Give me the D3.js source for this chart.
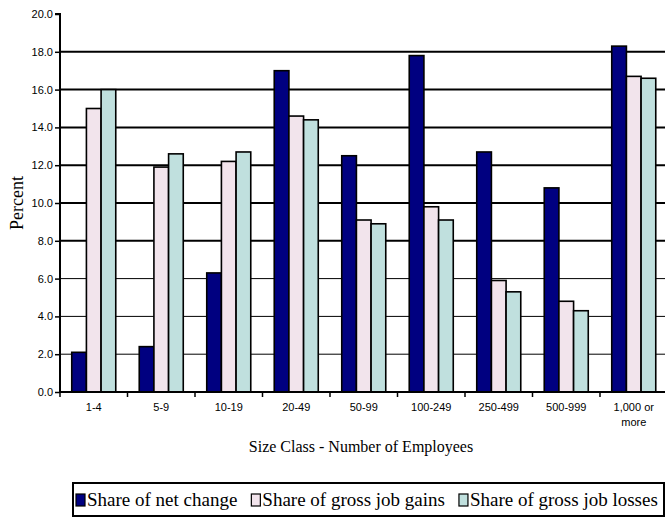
<!DOCTYPE html>
<html>
<head>
<meta charset="utf-8">
<script src="https://cdn.jsdelivr.net/npm/d3@7"></script>
<style>
  body { margin: 0; background: #fff; }
  svg { display: block; }
</style>
</head>
<body>
<svg id="chart"></svg>
<script>
var width = 665;
var height = 517;

// size classes along the bottom
var sizeClasses = ['1-4', '5-9', '10-19', '20-49', '50-99', '100-249', '250-499', '500-999', '1,000 or more'];

// the three series (percent)
var netChange   = [2.1, 2.4, 6.3, 17.0, 12.5, 17.8, 12.7, 10.8, 18.3];
var grossGains  = [15.0, 11.9, 12.2, 14.6, 9.1, 9.8, 5.9, 4.8, 16.7];
var grossLosses = [16.0, 12.6, 12.7, 14.4, 8.9, 9.1, 5.3, 4.3, 16.6];

var seriesNames = ['Share of net change', 'Share of gross job gains', 'Share of gross job losses'];
var seriesColors = ['#000080', '#f2e4ec', '#c0e0de'];

var yTicks = [0, 2, 4, 6, 8, 10, 12, 14, 16, 18, 20];

var seriesData = [netChange, grossGains, grossLosses];

var svg = d3.select('#chart').attr('width', width).attr('height', height);

// plot box (right side runs a bit past the window, as in the original)
var plotLeft = 60, plotRight = 667.5, plotTop = 14, plotBottom = 392;

var x0 = d3.scaleBand().domain(sizeClasses).range([plotLeft, plotRight]).paddingInner(0).paddingOuter(0);
var x1 = d3.scaleBand().domain(d3.range(3)).range([0, x0.bandwidth()]).paddingInner(0).paddingOuter(0.8);
var y = d3.scaleLinear().domain([0, 20]).range([plotBottom, plotTop]);

// gridlines
svg.append('g')
  .selectAll('line')
  .data(yTicks.filter(function(d){ return d > 0 && d < 20; }))
  .enter().append('line')
  .attr('x1', plotLeft).attr('x2', width)
  .attr('y1', function(d){ return y(d); })
  .attr('y2', function(d){ return y(d); })
  .attr('stroke', '#000')
  .attr('stroke-width', function(d){ return d >= 8 ? 2 : 1; });

// bars
var groups = svg.append('g')
  .selectAll('g')
  .data(sizeClasses)
  .enter().append('g')
  .attr('transform', function(d){ return 'translate(' + x0(d) + ',0)'; });

groups.selectAll('rect')
  .data(function(d, i){ return seriesData.map(function(s, k){ return { k: k, v: s[i] }; }); })
  .enter().append('rect')
  .attr('x', function(d){ return x1(d.k); })
  .attr('width', x1.bandwidth())
  .attr('y', function(d){ return y(d.v); })
  .attr('height', function(d){ return y(0) - y(d.v); })
  .attr('fill', function(d){ return seriesColors[d.k]; })
  .attr('stroke', '#000')
  .attr('stroke-width', 1.6);

// y axis
var yAxis = d3.axisLeft(y).tickValues(yTicks).tickSize(5).tickFormat(d3.format('.1f'));
var yg = svg.append('g').attr('transform', 'translate(' + plotLeft + ',0)').call(yAxis);
yg.select('.domain').attr('stroke-width', 2).attr('d', 'M-5,' + plotTop + 'H0V' + plotBottom);
yg.selectAll('.tick line').attr('stroke-width', 1.5);
yg.selectAll('.tick text')
  .attr('x', -7)
  .style('font-family', 'Liberation Sans, Arial, sans-serif')
  .style('font-size', '11px')
  .attr('fill', '#000');

// x axis
var xg = svg.append('g').attr('transform', 'translate(0,' + plotBottom + ')');
xg.append('line')
  .attr('x1', plotLeft).attr('x2', width)
  .attr('stroke', '#000').attr('stroke-width', 2);
xg.selectAll('.xtick')
  .data(sizeClasses)
  .enter().append('line')
  .attr('class', 'xtick')
  .attr('x1', function(d){ return x0(d); })
  .attr('x2', function(d){ return x0(d); })
  .attr('y1', 0).attr('y2', 5)
  .attr('stroke', '#000').attr('stroke-width', 1.5);

var xl = xg.selectAll('.xlab')
  .data(sizeClasses)
  .enter().append('text')
  .attr('class', 'xlab')
  .attr('x', function(d){ return x0(d) + x0.bandwidth() / 2; })
  .attr('y', 19)
  .attr('text-anchor', 'middle')
  .style('font-family', 'Liberation Sans, Arial, sans-serif')
  .style('font-size', '11px');
xl.each(function(d){
  var t = d3.select(this);
  if (d === '1,000 or more') {
    t.append('tspan').attr('x', t.attr('x')).text('1,000 or');
    t.append('tspan').attr('x', t.attr('x')).attr('dy', 15).text('more');
  } else {
    t.text(d);
  }
});

// axis titles
svg.append('text')
  .attr('x', 361).attr('y', 452)
  .attr('text-anchor', 'middle')
  .style('font-family', 'Liberation Serif, Times New Roman, serif')
  .style('font-size', '16px')
  .text('Size Class - Number of Employees');

svg.append('text')
  .attr('transform', 'translate(23,203) rotate(-90)')
  .attr('text-anchor', 'middle')
  .style('font-family', 'Liberation Serif, Times New Roman, serif')
  .style('font-size', '18px')
  .text('Percent');

// legend
var legend = svg.append('g');
legend.append('rect')
  .attr('x', 73).attr('y', 483)
  .attr('width', 591).attr('height', 33)
  .attr('fill', 'none').attr('stroke', '#000').attr('stroke-width', 2);

var items = legend.selectAll('.item')
  .data(seriesNames)
  .enter().append('g')
  .attr('class', 'item');
items.append('rect')
  .attr('x', 0).attr('y', 494)
  .attr('width', 9).attr('height', 12)
  .attr('fill', function(d, i){ return seriesColors[i]; })
  .attr('stroke', '#000').attr('stroke-width', 1.2);
items.append('text')
  .attr('x', 11).attr('y', 506)
  .style('font-family', 'Liberation Serif, Times New Roman, serif')
  .style('font-size', '19px')
  .text(function(d){ return d; });

// lay the legend entries out one after another
var cursor = 76;
items.each(function(){
  var g = d3.select(this);
  g.attr('transform', 'translate(' + cursor + ',0)');
  cursor += 11 + g.select('text').node().getComputedTextLength() + 14;
});
</script>
</body>
</html>
